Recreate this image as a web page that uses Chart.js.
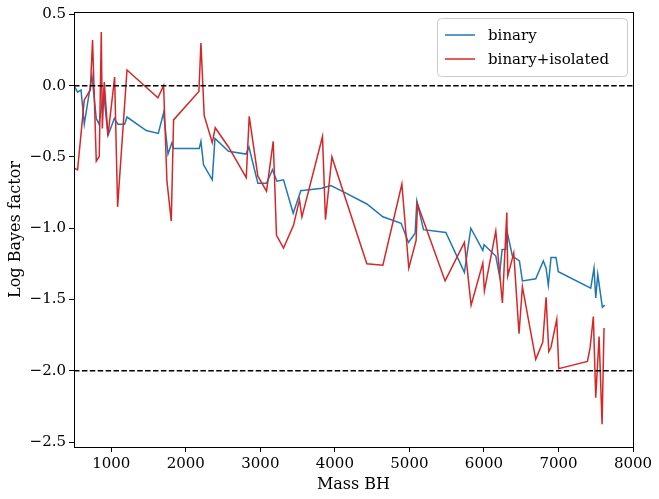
<!DOCTYPE html>
<html>
<head>
<meta charset="utf-8">
<script src="https://cdn.jsdelivr.net/npm/chart.js@4"></script>
<style>
  body { margin: 0; background: #fff; }
  canvas { display: block; }
</style>
</head>
<body>
<canvas id="bayesChart" width="659" height="499"></canvas>
<script>
// masa del BH y log Bayes factor
const binaryMass = [500, 548, 594, 638, 741, 799, 835, 897, 956, 1041, 1090, 1179, 1211, 1470, 1631, 1702, 1761, 1814, 1836, 2180,
    2203, 2238, 2355, 2391, 2573, 2807, 2847, 2967, 3083, 3163, 3222, 3311, 3441, 3544, 3571, 3826, 3946, 4116, 4429, 4644,
    4889, 4987, 5077, 5100, 5189, 5489, 5738, 5824, 5985, 6002, 6159, 6208, 6244, 6293, 6307, 6382, 6476, 6516, 6695, 6797,
    6834, 6864, 6900, 6967, 6998, 7433, 7477, 7500, 7527, 7589, 7621];
const binaryLogBF = [0.0, -0.045, -0.03, -0.27, 0.07, -0.23, -0.27, -0.045, -0.35, -0.23, -0.27, -0.27, -0.22, -0.315, -0.335, -0.19, -0.48, -0.40, -0.44, -0.44,
    -0.39, -0.555, -0.66, -0.37, -0.46, -0.48, -0.43, -0.685, -0.685, -0.59, -0.67, -0.66, -0.895, -0.735, -0.735, -0.72, -0.70, -0.745, -0.83, -0.92,
    -0.965, -1.10, -1.035, -0.81, -1.01, -1.03, -1.31, -1.00, -1.155, -1.115, -1.195, -1.33, -1.15, -1.15, -1.015, -1.195, -1.23, -1.37, -1.355, -1.23,
    -1.28, -1.40, -1.205, -1.205, -1.305, -1.42, -1.28, -1.49, -1.325, -1.555, -1.54];

const isolatedMass = [500, 548, 638, 719, 749, 799, 839, 866, 880, 906, 956, 1045, 1085, 1211, 1626, 1702, 1747, 1805, 1836, 2176,
    2203, 2247, 2355, 2395, 2573, 2811, 2851, 2967, 3083, 3173, 3217, 3311, 3445, 3525, 3558, 3834, 3874, 3960, 4429, 4644,
    4899, 4992, 5090, 5108, 5479, 5738, 5828, 5985, 6006, 6159, 6248, 6307, 6320, 6400, 6471, 6516, 6695, 6789, 6834, 6870,
    6900, 6977, 7004, 7388, 7424, 7468, 7500, 7545, 7585, 7611];
const isolatedLogBF = [-0.576, -0.59, -0.10, -0.03, 0.32, -0.53, -0.495, 0.377, -0.30, 0.025, -0.35, 0.06, -0.85, 0.11, -0.085, 0.0, -0.67, -0.95, -0.24, -0.04,
    0.30, -0.21, -0.40, -0.295, -0.43, -0.645, -0.215, -0.635, -0.74, -0.39, -1.05, -1.14, -0.98, -0.80, -0.92, -0.357, -0.94, -0.50, -1.25, -1.26,
    -0.69, -1.28, -1.085, -0.83, -1.37, -1.10, -1.54, -1.245, -1.44, -1.02, -1.525, -0.89, -1.335, -1.175, -1.74, -1.41, -1.92, -1.80, -1.485, -1.865,
    -1.835, -1.64, -1.985, -1.935, -1.84, -1.62, -2.19, -1.76, -2.375, -1.70];

const refLevels = [0, -2];
const xTicks = [1000, 2000, 3000, 4000, 5000, 6000, 7000, 8000];
const yTicks = [-2.5, -2.0, -1.5, -1.0, -0.5, 0.0, 0.5];
const xMin = 500, xMax = 8000;

const serif = '"DejaVu Serif", "Liberation Serif", serif';

function toPoints(xs, ys) {
    return xs.map((x, i) => ({ x: x, y: ys[i] }));
}

// marco completo y leyenda dentro del área, como en matplotlib
const framePlugin = {
    id: 'frame',
    afterDatasetsDraw(chart) {
        const { ctx, chartArea: a } = chart;
        ctx.save();
        ctx.strokeStyle = '#000';
        ctx.lineWidth = 1;
        ctx.strokeRect(Math.round(a.left) + 0.5, Math.round(a.top) + 0.5,
            Math.round(a.right - a.left), Math.round(a.bottom - a.top));
        ctx.restore();
    }
};

const legendPlugin = {
    id: 'boxLegend',
    afterDraw(chart) {
        const { ctx, chartArea: a } = chart;
        const items = chart.data.datasets.filter(d => d.inLegend);
        const bx = a.right - 196, by = a.top + 6, bw = 190, bh = 58;
        ctx.save();
        ctx.beginPath();
        ctx.roundRect(bx + 0.5, by + 0.5, bw, bh, 4);
        ctx.fillStyle = 'rgba(255,255,255,0.8)';
        ctx.fill();
        ctx.strokeStyle = '#cccccc';
        ctx.lineWidth = 1;
        ctx.stroke();
        ctx.font = '15px ' + serif;
        ctx.textBaseline = 'middle';
        items.forEach((d, i) => {
            const y = by + 17 + i * 24;
            ctx.strokeStyle = d.borderColor;
            ctx.lineWidth = 1.5;
            ctx.beginPath();
            ctx.moveTo(bx + 8, y);
            ctx.lineTo(bx + 38, y);
            ctx.stroke();
            ctx.fillStyle = '#000';
            ctx.fillText(d.label, bx + 51, y + 1);
        });
        ctx.restore();
    }
};

const datasets = [
    {
        label: 'binary',
        data: toPoints(binaryMass, binaryLogBF),
        borderColor: '#1f77b4',
        borderWidth: 1.5,
        inLegend: true,
        order: 3
    },
    {
        label: 'binary+isolated',
        data: toPoints(isolatedMass, isolatedLogBF),
        borderColor: '#d62728',
        borderWidth: 1.5,
        inLegend: true,
        order: 2
    }
];
refLevels.forEach(lv => {
    datasets.push({
        label: 'ref ' + lv,
        data: [{ x: xMin, y: lv }, { x: xMax, y: lv }],
        borderColor: '#000',
        borderWidth: 1.5,
        borderDash: [5.5, 2.4],
        inLegend: false,
        order: 1
    });
});

new Chart(document.getElementById('bayesChart').getContext('2d'), {
    type: 'line',
    data: { datasets: datasets },
    options: {
        responsive: false,
        animation: false,
        layout: { padding: { left: 0, right: 26, top: 12, bottom: 0 } },
        elements: { point: { radius: 0 }, line: { tension: 0, fill: false } },
        plugins: { legend: { display: false }, tooltip: { enabled: false } },
        scales: {
            x: {
                type: 'linear',
                min: xMin,
                max: xMax,
                afterBuildTicks: s => { s.ticks = xTicks.map(v => ({ value: v })); },
                afterFit: s => { s.height = 52; },
                grid: { drawOnChartArea: false, drawTicks: true, tickLength: 5, color: '#000' },
                border: { display: false },
                ticks: {
                    color: '#000', padding: 3, maxRotation: 0, font: { family: serif, size: 15 },
                    callback: v => String(v)
                },
                title: { display: true, text: 'Mass BH', color: '#000', font: { family: serif, size: 16 }, padding: { top: 0, bottom: 5 } }
            },
            y: {
                type: 'linear',
                min: -2.535,
                max: 0.517,
                afterBuildTicks: s => { s.ticks = yTicks.map(v => ({ value: v })); },
                afterFit: s => { s.width = 74; },
                grid: { drawOnChartArea: false, drawTicks: true, tickLength: 5, color: '#000' },
                border: { display: false },
                ticks: {
                    color: '#000', padding: 3, font: { family: serif, size: 15 },
                    callback: v => v.toFixed(1).replace('-', '\u2212')
                },
                title: { display: true, text: 'Log Bayes factor', color: '#000', font: { family: serif, size: 16 }, padding: { top: 6, bottom: 0 } }
            }
        }
    },
    plugins: [framePlugin, legendPlugin]
});
</script>
</body>
</html>
